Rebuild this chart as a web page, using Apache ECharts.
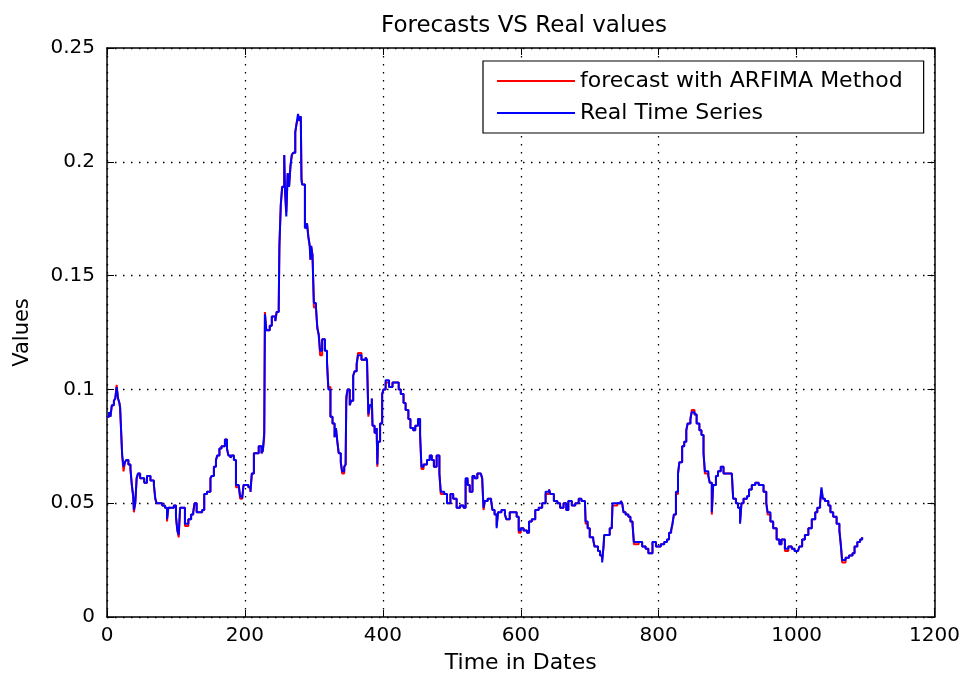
<!DOCTYPE html>
<html>
<head>
<meta charset="utf-8">
<script src="https://cdn.jsdelivr.net/npm/echarts@6/dist/echarts.min.js"></script>
<style>
  html, body { margin: 0; padding: 0; background: #fff; }
  #chart { width: 963px; height: 679px; }
</style>
</head>
<body>
<div id="chart"></div>
<script>
// Day index of each sample
const days = [
  0, 3, 5, 7, 10, 12, 14, 16, 18, 19,
  20, 22, 24, 26, 28, 31, 34, 36, 38, 39,
  41, 43, 45, 48, 50, 54, 58, 63, 68, 70,
  72, 80, 84, 87, 89, 94, 97, 100, 102, 104,
  106, 110, 113, 118, 122, 125, 127, 130, 134, 138,
  141, 145, 150, 152, 155, 158, 160, 163, 166, 171,
  174, 176, 179, 181, 184, 187, 191, 193, 196, 198,
  202, 205, 208, 210, 213, 217, 220, 224, 226, 228,
  229, 231, 236, 239, 244, 246, 249, 250, 252, 254,
  257, 258, 260, 262, 264, 266, 268, 270, 273, 275,
  277, 279, 281, 282, 283, 287, 290, 292, 294, 295,
  296, 298, 300, 303, 305, 307, 309, 312, 316, 319,
  321, 324, 327, 330, 332, 334, 336, 339, 341, 344,
  346, 347, 349, 352, 354, 357, 359, 362, 364, 369,
  375, 377, 379, 381, 384, 385, 388, 391, 392, 393,
  396, 399, 401, 404, 409, 414, 418, 423, 426, 430,
  433, 437, 440, 444, 447, 451, 454, 456, 459, 464,
  468, 471, 474, 478, 482, 484, 489, 493, 498, 502,
  507, 512, 517, 520, 523, 526, 530, 533, 537, 542,
  544, 546, 548, 552, 557, 559, 562, 565, 567, 572,
  577, 579, 584, 591, 594, 597, 600, 604, 609, 612,
  616, 621, 626, 631, 636, 641, 643, 648, 653, 657,
  662, 666, 669, 674, 679, 684, 688, 693, 694, 697,
  700, 705, 707, 712, 715, 718, 720, 721, 726, 729,
  732, 733, 740, 745, 747, 749, 752, 756, 759, 762,
  764, 771, 776, 781, 785, 788, 791, 796, 803, 808,
  812, 815, 818, 820, 822, 825, 828, 830, 834, 837,
  840, 842, 846, 848, 852, 855, 859, 862, 865, 867,
  872, 874, 877, 879, 883, 886, 890, 894, 901, 906,
  908, 912, 915, 918, 920, 923, 928, 931, 935, 940,
  945, 949, 952, 956, 958, 962, 966, 971, 975, 978,
  983, 988, 993, 997, 1002, 1004, 1008, 1012, 1017, 1022,
  1027, 1030, 1034, 1036, 1038, 1041, 1046, 1049, 1053, 1058,
  1062, 1064, 1066, 1071, 1076, 1081, 1084, 1088, 1092, 1095
];

// Observed series
const realValues = [
  .088, .090, .088, .093, .095, .096, .101, .096, .094, .092,
  .085, .071, .066, .068, .069, .067, .065, .058, .053, .047,
  .050, .061, .063, .061, .061, .059, .062, .060, .058, .052,
  .050, .049, .048, .043, .048, .048, .049, .044, .038, .036,
  .048, .048, .041, .043, .045, .046, .050, .046, .046, .047,
  .054, .055, .061, .062, .066, .069, .071, .074, .075, .078,
  .074, .071, .070, .071, .069, .058, .058, .053, .052, .058,
  .058, .057, .055, .063, .072, .072, .075, .072, .073, .081,
  .133, .126, .128, .132, .130, .134, .136, .163, .181, .189,
  .203, .189, .176, .195, .189, .198, .203, .204, .213, .217,
  .221, .218, .220, .192, .190, .171, .173, .167, .163, .157,
  .163, .159, .138, .136, .127, .124, .117, .122, .117, .112,
  .100, .088, .085, .079, .083, .077, .072, .068, .064, .066,
  .067, .097, .100, .093, .095, .106, .108, .111, .115, .113,
  .114, .113, .089, .093, .096, .084, .081, .083, .067, .077,
  .085, .098, .100, .104, .101, .103, .103, .100, .098, .094,
  .091, .087, .083, .082, .084, .087, .080, .066, .067, .069,
  .071, .069, .066, .071, .063, .055, .054, .050, .054, .052,
  .048, .049, .048, .061, .058, .055, .062, .061, .063, .063,
  .061, .048, .051, .052, .051, .047, .045, .039, .046, .047,
  .045, .043, .046, .046, .044, .038, .039, .038, .037, .042,
  .043, .047, .048, .050, .055, .056, .054, .051, .050, .048,
  .050, .047, .051, .049, .050, .052, .051, .051, .042, .039,
  .035, .034, .031, .029, .027, .024, .031, .036, .036, .039,
  .040, .050, .050, .051, .050, .046, .045, .044, .042, .041,
  .033, .033, .031, .030, .028, .028, .033, .031, .032, .033,
  .034, .037, .038, .041, .045, .055, .063, .068, .075, .077,
  .082, .085, .087, .090, .089, .085, .082, .080, .072, .064,
  .062, .059, .046, .058, .062, .064, .066, .063, .063, .063,
  .052, .050, .048, .041, .050, .052, .053, .056, .058, .059,
  .058, .058, .055, .050, .046, .042, .039, .034, .032, .034,
  .030, .031, .030, .029, .029, .031, .034, .036, .039, .043,
  .046, .048, .050, .057, .052, .051, .049, .046, .044, .041,
  .038, .032, .025, .026, .027, .028, .031, .033, .034, .035
];

// ARFIMA one-step forecasts
const forecastValues = [
  .088, .090, .088, .093, .095, .096, .102, .096, .094, .092,
  .085, .071, .064, .068, .069, .067, .065, .058, .053, .046,
  .050, .061, .063, .061, .061, .059, .062, .060, .058, .052,
  .050, .049, .048, .042, .048, .048, .049, .044, .038, .035,
  .048, .048, .040, .043, .045, .046, .050, .046, .046, .047,
  .054, .055, .061, .062, .066, .069, .071, .074, .075, .078,
  .074, .071, .070, .071, .069, .057, .058, .052, .052, .058,
  .058, .057, .055, .063, .072, .072, .075, .072, .073, .079,
  .134, .126, .128, .132, .130, .134, .135, .163, .181, .189,
  .203, .187, .178, .195, .189, .198, .203, .204, .213, .217,
  .219, .218, .220, .193, .190, .171, .173, .167, .163, .157,
  .163, .159, .136, .136, .127, .124, .115, .122, .117, .112,
  .101, .088, .085, .079, .083, .077, .072, .068, .063, .066,
  .067, .095, .100, .093, .095, .106, .108, .111, .116, .113,
  .114, .113, .088, .093, .096, .084, .081, .083, .066, .077,
  .085, .098, .100, .103, .101, .103, .103, .100, .098, .094,
  .091, .087, .083, .082, .084, .087, .080, .065, .067, .069,
  .071, .069, .066, .071, .063, .054, .054, .050, .054, .052,
  .048, .049, .048, .060, .058, .055, .062, .061, .063, .063,
  .061, .047, .051, .052, .051, .047, .045, .040, .046, .047,
  .045, .043, .046, .046, .044, .037, .039, .038, .037, .042,
  .043, .047, .048, .050, .054, .056, .054, .051, .050, .048,
  .050, .047, .051, .049, .050, .052, .051, .051, .041, .039,
  .035, .034, .031, .029, .027, .025, .031, .036, .036, .039,
  .040, .049, .050, .051, .050, .046, .045, .044, .042, .041,
  .032, .033, .031, .030, .028, .028, .033, .031, .032, .033,
  .034, .037, .038, .041, .045, .054, .063, .068, .075, .077,
  .082, .085, .087, .091, .089, .085, .082, .080, .072, .063,
  .062, .059, .045, .058, .062, .064, .066, .063, .063, .063,
  .052, .050, .048, .042, .050, .052, .053, .056, .058, .059,
  .058, .058, .055, .050, .045, .042, .039, .034, .032, .034,
  .029, .031, .030, .029, .029, .031, .034, .036, .039, .043,
  .046, .048, .050, .056, .052, .051, .049, .046, .044, .041,
  .038, .032, .024, .026, .027, .028, .031, .033, .034, .035
];

const seriesNames = ['forecast with ARFIMA Method', 'Real Time Series'];
const xTicks = { min: 0, max: 1200, step: 200 };
const yTicks = { min: 0, max: 0.25, step: 0.05 };

const FONT = 'DejaVu Sans';
const pairs = vals => days.map((d, i) => [d, vals[i]]);

const chart = echarts.init(document.getElementById('chart'), null, { renderer: 'canvas' });

const frameLine = { show: true, onZero: false, lineStyle: { color: '#000', width: 1.5 } };
const innerTick = { show: true, inside: true, length: 7, lineStyle: { color: '#000', width: 1 } };
const dotted = { show: true, lineStyle: { color: '#000', width: 1.3, type: [1.5, 6.5] } };

chart.setOption({
  animation: false,
  backgroundColor: '#fff',
  title: {
    text: 'Forecasts VS Real values',
    left: 519,
    textAlign: 'center',
    top: 10,
    textStyle: { fontFamily: FONT, fontSize: 23, fontWeight: 'normal', color: '#000' }
  },
  legend: {
    orient: 'vertical',
    left: 483,
    top: 61,
    padding: [8, 21, 8, 14],
    itemWidth: 78,
    itemHeight: 2,
    itemGap: 8,
    backgroundColor: '#fff',
    borderColor: '#000',
    borderWidth: 1.2,
    borderRadius: 0,
    textStyle: { fontFamily: FONT, fontSize: 22, color: '#000', lineHeight: 24 },
    data: [
      { name: seriesNames[0], icon: 'rect' },
      { name: seriesNames[1], icon: 'rect' }
    ]
  },
  grid: { left: 107, right: 28, top: 48, bottom: 59, containLabel: false },
  xAxis: [
    {
      type: 'value', position: 'bottom',
      min: xTicks.min, max: xTicks.max, interval: xTicks.step,
      axisLine: frameLine, axisTick: innerTick, splitLine: dotted,
      axisLabel: { color: '#000', fontFamily: FONT, fontSize: 20, margin: 9, formatter: v => String(v) },
      name: 'Time in Dates', nameLocation: 'middle', nameGap: 35,
      nameTextStyle: { fontFamily: FONT, fontSize: 22, color: '#000' }
    },
    {
      type: 'value', position: 'top',
      min: xTicks.min, max: xTicks.max, interval: xTicks.step,
      axisLine: frameLine, axisTick: innerTick, splitLine: { show: false },
      axisLabel: { show: false }
    }
  ],
  yAxis: [
    {
      type: 'value', position: 'left',
      min: yTicks.min, max: yTicks.max, interval: yTicks.step,
      axisLine: frameLine, axisTick: innerTick, splitLine: dotted,
      axisLabel: { color: '#000', fontFamily: FONT, fontSize: 20, margin: 12 },
      name: 'Values', nameLocation: 'middle', nameGap: 74,
      nameTextStyle: { fontFamily: FONT, fontSize: 21, color: '#000' }
    },
    {
      type: 'value', position: 'right',
      min: yTicks.min, max: yTicks.max, interval: yTicks.step,
      axisLine: frameLine, axisTick: innerTick, splitLine: { show: false },
      axisLabel: { show: false }
    }
  ],
  series: [
    {
      name: seriesNames[0], type: 'line', data: pairs(forecastValues), step: 'end',
      showSymbol: false, symbol: 'none', color: '#ff0000',
      lineStyle: { color: '#ff0000', width: 2 }, z: 2
    },
    {
      name: seriesNames[1], type: 'line', data: pairs(realValues), step: 'end',
      showSymbol: false, symbol: 'none', color: '#0000ff',
      lineStyle: { color: '#0000ff', width: 2 }, z: 3
    }
  ]
});
</script>
</body>
</html>
